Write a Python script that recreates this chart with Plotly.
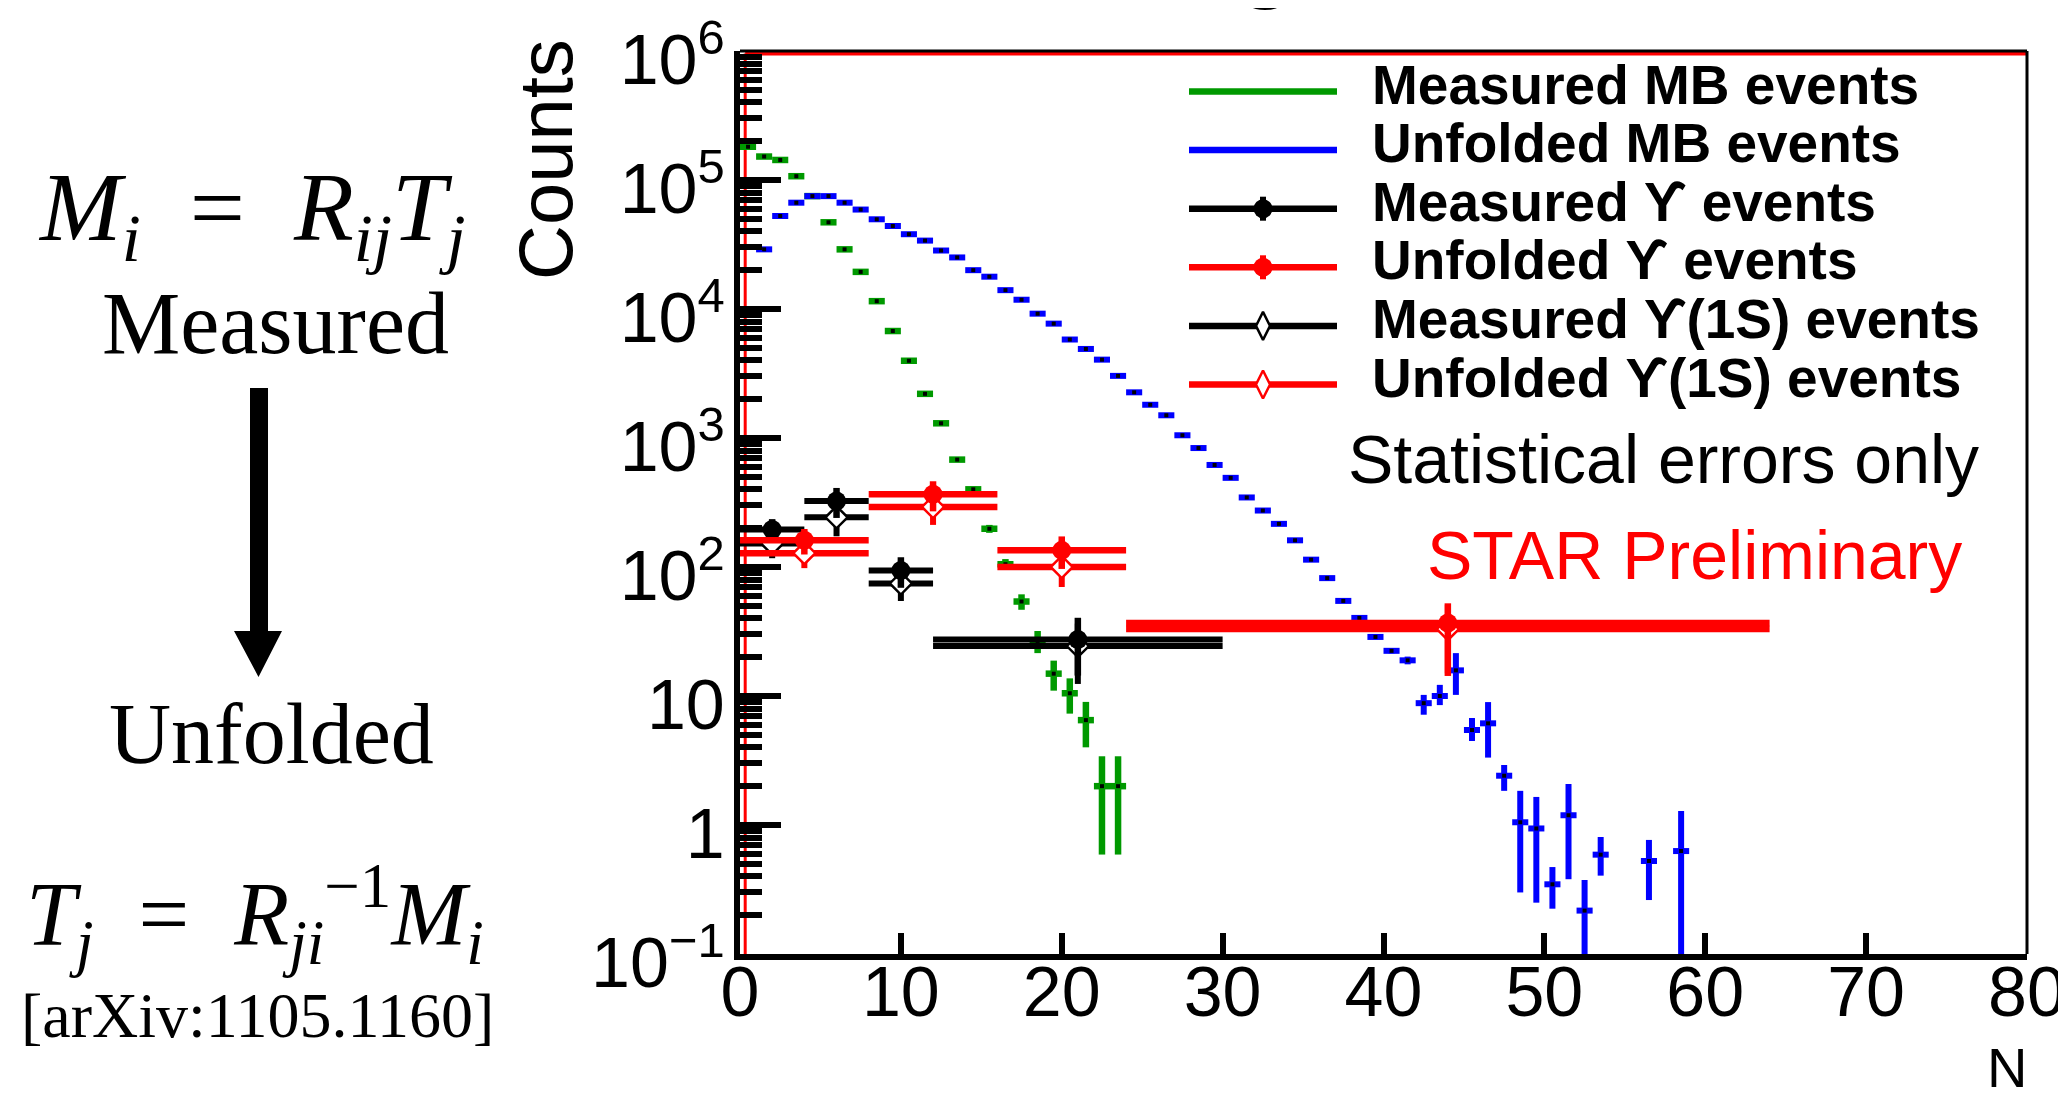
import plotly.graph_objects as go

# ---------------- data ----------------
# Measured minimum-bias (MB) events: bin centres N (bin width 1), counts, stat. errors
mb_bin_width = 1.0
mb_meas_n = [0.5, 1.5, 2.5, 3.5, 4.5, 5.5, 6.5, 7.5, 8.5, 9.5, 10.5, 11.5,
             12.5, 13.5, 14.5, 15.5, 16.5, 17.5, 18.5, 19.5, 20.5, 21.5, 22.5, 23.5]
mb_meas_counts = [1.81e5, 1.52e5, 1.43e5, 1.07e5, 7.5e4, 4.7e4, 2.9e4, 1.94e4, 1.15e4,
                  6.75e3, 3.97e3, 2.2e3, 1.3e3, 680, 400, 198, 105, 54, 26.7, 14.9,
                  10.5, 6.5, 2, 2]
mb_meas_err = [425, 390, 378, 327, 274, 217, 170, 139, 107, 82, 63, 47, 36, 26, 20,
               14, 10.2, 7.4, 5.2, 3.9, 3.2, 2.5, 1.41, 1.41]

# Unfolded MB events
mb_unf_n = [1.5, 2.5, 3.5, 4.5, 5.5, 6.5, 7.5, 8.5, 9.5, 10.5, 11.5, 12.5, 13.5, 14.5,
            15.5, 16.5, 17.5, 18.5, 19.5, 20.5, 21.5, 22.5, 23.5, 24.5, 25.5, 26.5,
            27.5, 28.5, 29.5, 30.5, 31.5, 32.5, 33.5, 34.5, 35.5, 36.5, 37.5, 38.5,
            39.5, 40.5, 41.5, 42.5, 43.5, 44.5, 45.5, 46.5, 47.5, 48.5, 49.5, 50.5,
            51.5, 52.5, 53.5, 56.5, 58.5]
mb_unf_counts = [2.9e4, 5.26e4, 6.67e4, 7.5e4, 7.5e4, 6.67e4, 5.9e4, 4.96e4, 4.4e4,
                 3.8e4, 3.39e4, 2.84e4, 2.51e4, 2.0e4, 1.78e4, 1.4e4, 1.18e4, 9.2e3,
                 7.7e3, 5.8e3, 4.9e3, 4.05e3, 3.03e3, 2.26e3, 1.81e3, 1.5e3, 1.05e3,
                 836, 618, 491, 346, 274, 216, 161, 114, 82, 54.6, 40.3, 28.7, 22.4,
                 18.9, 8.8, 10.0, 15.8, 5.45, 6.14, 2.41, 1.05, 0.94, 0.347, 1.19,
                 0.217, 0.589, 0.526, 0.628]
mb_unf_err_up = [170, 230, 260, 275, 275, 260, 245, 225, 210, 195, 185, 170, 160, 140,
                 135, 120, 110, 96, 88, 76, 70, 64, 55, 48, 43, 39, 32, 26, 20, 16,
                 12, 9, 7, 5, 4, 3, 2, 1.5, 1.2, 1.0, 1.3,
                 1.4, 2.2, 5.7, 1.3, 2.83, 0.51, 0.79, 0.71, 0.125, 0.89, 0.158,
                 0.218, 0.24, 0.657]
mb_unf_err_down = [170, 230, 260, 275, 275, 260, 245, 225, 210, 195, 185, 170, 160, 140,
                   135, 120, 110, 96, 88, 76, 70, 64, 55, 48, 43, 39, 32, 26, 20, 16,
                   12, 9, 7, 5, 4, 3, 2, 1.5, 1.2, 1.0, 1.3,
                   1.64, 1.5, 5.6, 0.97, 2.81, 0.57, 0.75, 0.69, 0.1225, 0.81, 0.21,
                   0.184, 0.264, 0.62]

# Upsilon events (variable bins)
ups_meas_edges = [0, 4, 8, 12, 30]
ups_meas_counts = [195, 325, 94, 27.4]
ups_meas_err = [40, 85, 25, 13]
ups1s_meas_counts = [152, 243, 74.5, 24.4]
ups1s_meas_err = [35, 70, 20, 12]

ups_unf_edges = [0, 8, 16, 24, 64]
ups_unf_counts = [161, 366, 134.6, 36.8]
ups_unf_err_up = [36, 96, 38, 15.5]
ups_unf_err_down = [36, 96, 38, 22.5]
ups1s_unf_counts = [128, 292, 100, 33]
ups1s_unf_err = [30, 80, 30, 18]

x_ticks = [0, 10, 20, 30, 40, 50, 60, 70, 80]

legend_labels = ["Measured MB events", "Unfolded MB events", "Measured \u03d2 events",
                 "Unfolded \u03d2 events", "Measured \u03d2(1S) events",
                 "Unfolded \u03d2(1S) events"]

# ---------------- styling / geometry ----------------
GREEN = "#009900"
BLUE = "#0000ff"
RED = "#ff0000"
BLACK = "#000000"
SANS = "Liberation Sans, Arial, Helvetica, sans-serif"
SERIF = "Liberation Serif, Times New Roman, serif"

PAGE_W, PAGE_H = 2066, 1106
BODY = 8                      # default HTML body margin that offsets the figure
W, H = PAGE_W - BODY, PAGE_H - 2 * BODY
# plot area in page pixels
PX_L, PX_R, PX_T, PX_B = 740, 2027, 51, 954
L, R, T = PX_L - BODY, PAGE_W - PX_R, PX_T - BODY
B = H - (PX_B - BODY)
PLOT_W = PX_R - PX_L
PLOT_H = PX_B - PX_T


def pxx(px):
    return (px - PX_L) / PLOT_W


def pxy(py):
    return (PX_B - py) / PLOT_H


def centers(edges):
    return [(a + b) / 2 for a, b in zip(edges[:-1], edges[1:])]


def halfwidths(edges):
    return [(b - a) / 2 for a, b in zip(edges[:-1], edges[1:])]


fig = go.Figure()

# Measured MB
fig.add_trace(go.Scatter(
    x=mb_meas_n, y=mb_meas_counts, mode="markers",
    marker=dict(symbol="square", size=4, color=BLACK),
    error_x=dict(type="constant", value=mb_bin_width / 2, thickness=6.5, width=0, color=GREEN),
    error_y=dict(type="data", array=mb_meas_err, thickness=6.5, width=0, color=GREEN),
    showlegend=False, hoverinfo="x+y"))

# Unfolded MB
fig.add_trace(go.Scatter(
    x=mb_unf_n, y=mb_unf_counts, mode="markers",
    marker=dict(symbol="square", size=4, color=BLACK),
    error_x=dict(type="constant", value=mb_bin_width / 2, thickness=6, width=0, color=BLUE),
    error_y=dict(type="data", symmetric=False, array=mb_unf_err_up,
                 arrayminus=mb_unf_err_down, thickness=6, width=0, color=BLUE),
    showlegend=False, hoverinfo="x+y"))

# Measured Upsilon (filled) and Upsilon(1S) (open diamond)
fig.add_trace(go.Scatter(
    x=centers(ups_meas_edges), y=ups1s_meas_counts, mode="markers",
    marker=dict(symbol="diamond", size=17, color="white", line=dict(color=BLACK, width=2.5)),
    error_x=dict(type="data", array=halfwidths(ups_meas_edges), thickness=6, width=0, color=BLACK),
    error_y=dict(type="data", array=ups1s_meas_err, thickness=6, width=0, color=BLACK),
    showlegend=False))
fig.add_trace(go.Scatter(
    x=centers(ups_meas_edges), y=ups_meas_counts, mode="markers",
    marker=dict(symbol="circle", size=19, color=BLACK),
    error_x=dict(type="data", array=halfwidths(ups_meas_edges), thickness=6, width=0, color=BLACK),
    error_y=dict(type="data", array=ups_meas_err, thickness=6.5, width=0, color=BLACK),
    showlegend=False))

# Unfolded Upsilon
fig.add_trace(go.Scatter(
    x=centers(ups_unf_edges), y=ups1s_unf_counts, mode="markers",
    marker=dict(symbol="diamond", size=17, color="white", line=dict(color=RED, width=2.5)),
    error_x=dict(type="data", array=halfwidths(ups_unf_edges), thickness=6.5, width=0, color=RED),
    error_y=dict(type="data", array=ups1s_unf_err, thickness=6, width=0, color=RED),
    showlegend=False))
fig.add_trace(go.Scatter(
    x=centers(ups_unf_edges), y=ups_unf_counts, mode="markers",
    marker=dict(symbol="circle", size=19, color=RED),
    error_x=dict(type="data", array=halfwidths(ups_unf_edges), thickness=6.5, width=0, color=RED),
    error_y=dict(type="data", symmetric=False, array=ups_unf_err_up,
                 arrayminus=ups_unf_err_down, thickness=6.5, width=0, color=RED),
    showlegend=False))

# ---------------- hand-drawn ROOT-style legend (pixel overlay axes) ----------------
LEG_X0, LEG_X1 = 1189, 1337
LEG_XM = (LEG_X0 + LEG_X1) / 2
LEG_Y0, LEG_DY = 91.5, 58.6
LEG_TEXT_X = 1370
leg_colors = [GREEN, BLUE, BLACK, RED, BLACK, RED]
for i, (lab, col) in enumerate(zip(legend_labels, leg_colors)):
    yy = LEG_Y0 + i * LEG_DY
    fig.add_trace(go.Scatter(x=[LEG_X0, LEG_X1], y=[yy, yy], mode="lines",
                             line=dict(color=col, width=6.5), xaxis="x2", yaxis="y2",
                             showlegend=False, hoverinfo="skip"))
    if i in (2, 3):
        fig.add_trace(go.Scatter(x=[LEG_XM], y=[yy], mode="markers",
                                 marker=dict(symbol="circle", size=19, color=col),
                                 error_y=dict(type="constant", value=12, thickness=6, width=0, color=col),
                                 xaxis="x2", yaxis="y2", showlegend=False, hoverinfo="skip"))
    elif i in (4, 5):
        fig.add_trace(go.Scatter(x=[LEG_XM], y=[yy], mode="markers",
                                 marker=dict(symbol="diamond-tall", size=20, color="white",
                                             line=dict(color=col, width=2.5)),
                                 xaxis="x2", yaxis="y2", showlegend=False, hoverinfo="skip"))

annotations = []
for i, lab in enumerate(legend_labels):
    yy = LEG_Y0 + i * LEG_DY - 7
    annotations.append(dict(x=LEG_TEXT_X, y=yy, xref="x2", yref="y2", text="<b>" + lab + "</b>",
                            xanchor="left", yanchor="middle", showarrow=False,
                            font=dict(family=SANS, size=55, color=BLACK)))

annotations += [
    dict(x=1346, y=459, xref="x2", yref="y2", text="Statistical errors only",
         xanchor="left", yanchor="middle", showarrow=False,
         font=dict(family=SANS, size=68, color=BLACK)),
    dict(x=1425, y=555, xref="x2", yref="y2", text="STAR Preliminary",
         xanchor="left", yanchor="middle", showarrow=False,
         font=dict(family=SANS, size=68, color=RED)),
    # axis titles
    dict(x=pxx(545), y=pxy(160), xref="paper", yref="paper", text="Counts", textangle=-90,
         xanchor="center", yanchor="middle", showarrow=False,
         font=dict(family=SANS, size=76, color=BLACK)),
    dict(x=pxx(2029), y=pxy(1067.5), xref="paper", yref="paper", text="N",
         xanchor="right", yanchor="middle", showarrow=False,
         font=dict(family=SANS, size=56, color=BLACK)),
    # cut-off slide title glyph
    dict(x=pxx(1266), y=pxy(12), xref="paper", yref="paper", text="g",
         xanchor="center", yanchor="bottom", showarrow=False,
         font=dict(family=SANS, size=115, color=BLACK)),
    # left-hand explanatory text
    dict(x=pxx(252), y=pxy(214), xref="paper", yref="paper",
         text="<i>M</i><sub><i>i</i></sub>\u00a0\u00a0=\u00a0\u00a0<i>R</i><sub><i>ij</i></sub><i>T</i><sub><i>j</i></sub>",
         xanchor="center", yanchor="middle", showarrow=False,
         font=dict(family=SERIF, size=98, color=BLACK)),
    dict(x=pxx(275), y=pxy(323), xref="paper", yref="paper", text="Measured",
         xanchor="center", yanchor="middle", showarrow=False,
         font=dict(family=SERIF, size=88, color=BLACK)),
    dict(x=pxx(271), y=pxy(734), xref="paper", yref="paper", text="Unfolded",
         xanchor="center", yanchor="middle", showarrow=False,
         font=dict(family=SERIF, size=86, color=BLACK)),
    dict(x=pxx(255), y=pxy(914), xref="paper", yref="paper",
         text="<i>T</i><sub><i>j</i></sub>\u00a0\u00a0=\u00a0\u00a0<i>R</i><sub><i>ji</i></sub><sup>\u22121</sup><i>M</i><sub><i>i</i></sub>",
         xanchor="center", yanchor="middle", showarrow=False,
         font=dict(family=SERIF, size=90, color=BLACK)),
    dict(x=pxx(257), y=pxy(1016), xref="paper", yref="paper", text="[arXiv:1105.1160]",
         xanchor="center", yanchor="middle", showarrow=False,
         font=dict(family=SERIF, size=64, color=BLACK)),
]


def ppath(points):
    return "M " + " L ".join(f"{pxx(a):.5f},{pxy(b):.5f}" for a, b in points) + " Z"


shapes = [
    # thin top and right frame
    dict(type="line", xref="paper", yref="paper", x0=0, x1=1, y0=1, y1=1,
         line=dict(color=BLACK, width=3)),
    dict(type="line", xref="paper", yref="paper", x0=1, x1=1, y0=0, y1=1,
         line=dict(color=BLACK, width=3)),
    # red frame-like histogram line near the top-left edges
    dict(type="line", xref="paper", yref="paper", x0=pxx(745.2), x1=pxx(745.2), y0=0,
         y1=pxy(53.5), line=dict(color=RED, width=3), layer="below"),
    dict(type="line", xref="paper", yref="paper", x0=pxx(745.2), x1=1, y0=pxy(53.5),
         y1=pxy(53.5), line=dict(color=RED, width=4), layer="below"),
    # big black arrow (Measured -> Unfolded)
    dict(type="path", xref="paper", yref="paper",
         path=ppath([(250, 388), (268, 388), (268, 631), (282, 631), (258.5, 677),
                     (234, 631), (250, 631)]),
         fillcolor=BLACK, line=dict(color=BLACK, width=0)),
]

fig.update_layout(
    width=W, height=H,
    margin=dict(l=L, r=R, t=T, b=B, pad=0, autoexpand=False),
    paper_bgcolor="white", plot_bgcolor="white",
    showlegend=False,
    xaxis=dict(range=[0, 80], tickvals=x_ticks, ticktext=[str(v) for v in x_ticks],
               showline=True, linewidth=6, linecolor=BLACK, mirror=False,
               ticks="inside", ticklen=21, tickwidth=6, tickcolor=BLACK,
               showgrid=False, zeroline=False, ticklabelstandoff=-28, automargin=False,
               ticklabeloverflow="allow",
               tickfont=dict(family=SANS, size=70, color=BLACK)),
    yaxis=dict(type="log", range=[-1, 6], dtick=1, exponentformat="power",
               showline=True, linewidth=6, linecolor=BLACK, mirror=False,
               ticks="inside", ticklen=41, tickwidth=6, tickcolor=BLACK,
               minor=dict(ticks="inside", ticklen=22, tickwidth=6, tickcolor=BLACK,
                          dtick="D1", showgrid=False),
               showgrid=False, zeroline=False, ticklabelstandoff=-2, ticklabelshift=8,
               automargin=False, ticklabeloverflow="allow",
               tickfont=dict(family=SANS, size=56, color=BLACK)),
    xaxis2=dict(overlaying="x", range=[PX_L, PX_R], visible=False, fixedrange=True,
                automargin=False),
    yaxis2=dict(overlaying="y", range=[PX_B, PX_T], visible=False, fixedrange=True,
                automargin=False),
    annotations=annotations,
    shapes=shapes,
)

fig.write_html("out.html")
